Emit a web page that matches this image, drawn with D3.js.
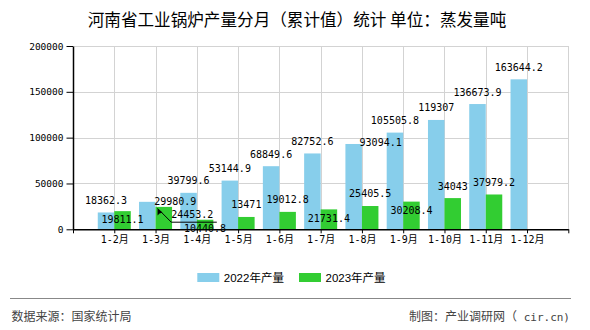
<!DOCTYPE html>
<html>
<head>
<meta charset="utf-8">
<script src="https://cdn.jsdelivr.net/npm/d3@7/dist/d3.min.js"></script>
<style>
  html, body { margin: 0; padding: 0; background: #fff; }
  svg { display: block; }
</style>
</head>
<body>
<svg id="chart" width="590" height="330"></svg>
<script>
// ---- data ----
const categories = ["1-2月","1-3月","1-4月","1-5月","1-6月","1-7月","1-8月","1-9月","1-10月","1-11月","1-12月"];
const series2022 = [18362.3, 29980.9, 39799.6, 53144.9, 68849.6, 82752.6, 93094.1, 105505.8, 119307, 136673.9, 163644.2];
const series2023 = [19811.1, 24453.2, 10440.8, 13471, 19012.8, 21731.4, 25405.5, 30208.4, 34043, 37979.2];
const seriesNames = ["2022年产量", "2023年产量"];
const yTicks = [0, 50000, 100000, 150000, 200000];
const labels2022 = ["18362.3","29980.9","39799.6","53144.9","68849.6","82752.6","93094.1","105505.8","119307","136673.9","163644.2"];
const labels2023 = ["19811.1","24453.2","10440.8","13471","19012.8","21731.4","25405.5","30208.4","34043","37979.2"];

// label placement nudges (reproducing the original's collision layout)
const nudge2022 = [[0,0],[28,12],[0,0],[0,0],[0,0],[0,0],[27,11],[0,0],[0,0],[0,0],[0,0]];
const nudge2023 = [[0,20],[28.5,20],[0,20.5],[0,0],[0,0],[0,21],[0,-1],[0,20.5],[0,0],[0,0]];

const colors = ["#87CEEB", "#32CD32"];
const monoFont = "'DejaVu Sans Mono', 'Liberation Mono', 'Noto Sans CJK SC', monospace";
const cjkFont = "'Noto Sans CJK SC', 'Noto Sans', sans-serif";

const svg = d3.select("#chart");
const pLeft = 73, pRight = 568.3, pTop = 46, pBottom = 229.3;

// x: point scale with an empty slot at each end
const xDomain = ["__start", ...categories, "__end"];
const x = d3.scalePoint().domain(xDomain).range([pLeft, pRight]).padding(0);
const step = x.step();
const barW = step * 0.4;
const xSub = d3.scaleBand().domain([0, 1]).range([-barW, barW]).padding(0);

const y = d3.scaleLinear().domain([0, 200000]).range([pBottom, pTop]);

// title
svg.append("text")
  .attr("x", 297).attr("y", 26.3)
  .attr("text-anchor", "middle")
  .style("font-family", cjkFont)
  .style("font-size", "16.6px")
  .style("fill", "#000")
  .text("河南省工业锅炉产量分月（累计值）统计 单位：蒸发量吨");

// grid
const grid = svg.append("g").attr("stroke", "#d3d3d3").attr("stroke-width", 1);
yTicks.forEach(t => {
  if (t === 0) return;
  grid.append("line").attr("x1", pLeft).attr("x2", pRight)
    .attr("y1", Math.round(y(t)) + 0.5).attr("y2", Math.round(y(t)) + 0.5);
});
xDomain.forEach((d, i) => {
  if (i === 0) return;
  grid.append("line").attr("x1", Math.round(x(d)) + 0.5).attr("x2", Math.round(x(d)) + 0.5)
    .attr("y1", pTop).attr("y2", pBottom);
});

// bars
const bars = svg.append("g");
const all = [series2022, series2023];
all.forEach((ser, s) => {
  bars.selectAll(null).data(ser).enter().append("rect")
    .attr("x", (d, i) => x(categories[i]) + xSub(s))
    .attr("y", d => y(d))
    .attr("width", xSub.bandwidth())
    .attr("height", d => y(0) - y(d))
    .attr("fill", colors[s]);
});

// axes
const xAxis = d3.axisBottom(x)
  .tickValues(xDomain)
  .tickFormat(d => d.startsWith("__") ? "" : d)
  .tickSize(4).tickSizeOuter(0).tickPadding(3);
const gx = svg.append("g").attr("transform", `translate(0,${pBottom})`).call(xAxis);
gx.select(".domain").attr("stroke", "#000").attr("stroke-width", 1.5);
gx.selectAll(".tick line").attr("stroke", "#000");
gx.selectAll(".tick text")
  .style("font-family", monoFont).style("font-size", "10px").style("fill", "#000");

const yAxis = d3.axisLeft(y).tickValues(yTicks).tickSize(6.5).tickSizeOuter(0).tickPadding(3)
  .tickFormat(d3.format("d"));
const gy = svg.append("g").attr("transform", `translate(${pLeft},0)`).call(yAxis);
gy.select(".domain").attr("stroke", "#000").attr("stroke-width", 1.5);
gy.selectAll(".tick line").attr("stroke", "#000");
gy.selectAll(".tick text")
  .style("font-family", monoFont).style("font-size", "9.5px").style("fill", "#000");

// value labels
const lab = svg.append("g")
  .style("font-family", monoFont).style("font-size", "10px").style("fill", "#000")
  .attr("text-anchor", "middle");
const labelSets = [labels2022, labels2023];
const nudges = [nudge2022, nudge2023];
all.forEach((ser, s) => {
  ser.forEach((v, i) => {
    const cx = x(categories[i]) + xSub(s) + xSub.bandwidth() / 2 + nudges[s][i][0];
    const cy = y(v) - 12 + nudges[s][i][1];
    lab.append("text").attr("x", cx).attr("y", cy).attr("dy", "0.35em").text(labelSets[s][i]);
  });
});

// leader line for the displaced 24453.2 label
(function () {
  const i = 1, s = 1;
  const bx = x(categories[i]) + xSub(s);
  const by = y(series2023[i]);
  const cx = x(categories[i]) + xSub(s) + xSub.bandwidth() / 2 + nudges[s][i][0];
  const cy = y(series2023[i]) - 12 + nudges[s][i][1];
  const tip = [bx + 2, by + 1.5];
  svg.append("polyline")
    .attr("points", [tip, [cx - 21, cy + 7.3], [cx + 24.5, cy + 7.3]].map(p => p.join(",")).join(" "))
    .attr("fill", "none").attr("stroke", "#000").attr("stroke-width", 1);
  svg.append("path")
    .attr("d", `M${tip[0]},${tip[1]} l0,7 l2,-2 l3,-1 Z`)
    .attr("fill", "#000");
})();

// legend
const lg = svg.append("g");
const legendX = [197.3, 299];
seriesNames.forEach((n, s) => {
  lg.append("rect").attr("x", legendX[s]).attr("y", 273).attr("width", 22).attr("height", 9).attr("fill", colors[s]);
  lg.append("text").attr("x", legendX[s] + 26.5).attr("y", 281.5)
    .style("font-family", "'Liberation Sans', 'Noto Sans CJK SC', sans-serif")
    .style("font-size", "11.5px").style("fill", "#000").text(n);
});

// footer
svg.append("line").attr("x1", 10).attr("x2", 571).attr("y1", 298.5).attr("y2", 298.5)
  .attr("stroke", "#888").attr("stroke-width", 1);
svg.append("text").attr("x", 11.5).attr("y", 320.5)
  .style("font-family", cjkFont).style("font-size", "12px").style("fill", "#444")
  .text("数据来源：国家统计局");
const ft = svg.append("text").attr("x", 570).attr("y", 320.5).attr("text-anchor", "end")
  .style("font-family", cjkFont).style("font-size", "12px").style("fill", "#444");
ft.append("tspan").text("制图：产业调研网（");
ft.append("tspan").style("font-family", monoFont).style("font-size", "11px").text(" cir.cn)");
</script>
</body>
</html>
